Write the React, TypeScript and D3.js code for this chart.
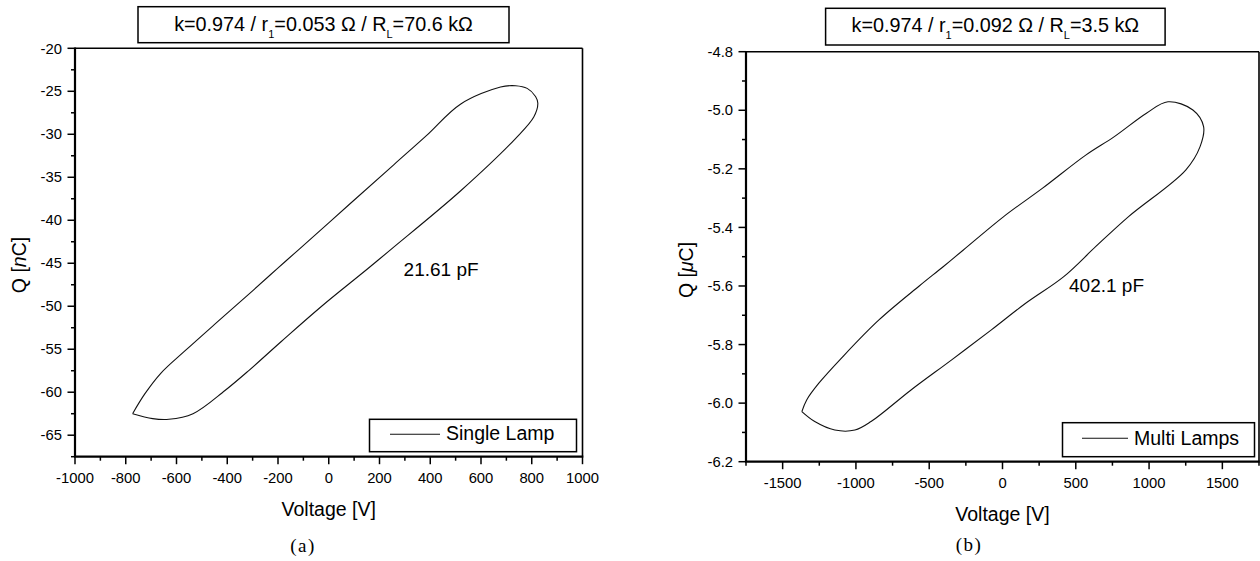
import { useEffect, useRef } from "react";
import * as d3 from "d3";

// (a) single lamp loop (V, nC)
const voltageA = [-773, -725, -662, -567, -440, -298, -204, -116, 85, 256, 387, 519, 677, 736, 782, 815, 824, 808, 736, 519, 249, 151, -28, -187, -314, -409, -535, -630, -694, -773];
const chargeA = [-62.5, -60.2, -57.8, -55.2, -51.85, -48.15, -45.65, -43.35, -38.05, -33.55, -30.1, -26.5, -24.5, -24.35, -24.66, -25.6, -26.4, -28.0, -30.5, -36.6, -43.3, -45.7, -50.0, -54.1, -57.45, -59.8, -62.5, -63.15, -63.07, -62.5];

// (b) multi lamps loop (V, uC)
const voltageB = [-1369, -1336, -1253, -1089, -843, -568, -407, -267, 8, 276, 568, 763, 982, 1129, 1299, 1372, 1348, 1250, 860, 637, 418, 158, -76, -349, -624, -897, -1007, -1144, -1281, -1369];
const chargeB = [-6.029, -5.989, -5.932, -5.841, -5.716, -5.6, -5.535, -5.477, -5.363, -5.265, -5.153, -5.09, -5.01, -4.971, -4.999, -5.056, -5.124, -5.204, -5.363, -5.465, -5.568, -5.659, -5.75, -5.853, -5.955, -6.063, -6.092, -6.092, -6.063, -6.029];

const xTicksA = [-1000, -800, -600, -400, -200, 0, 200, 400, 600, 800, 1000];
const yTicksA = [-65, -60, -55, -50, -45, -40, -35, -30, -25, -20];
const xTicksB = [-1500, -1000, -500, 0, 500, 1000, 1500];
const yTicksB = [-6.2, -6.0, -5.8, -5.6, -5.4, -5.2, -5.0, -4.8];

const FONT = "'Liberation Sans', Arial, sans-serif";

const App = () => {
  const ref = useRef(null);

  useEffect(() => {
    const svg = d3.select(ref.current);
    svg.selectAll("*").remove();

    const panels = [
      {
        xs: voltageA, ys: chargeA,
        box: { l: 75, r: 582.5, t: 48.3, b: 456.7 },
        xDom: [-1000, 1000], yDom: [-67.5, -20],
        xTicks: xTicksA, yTicks: yTicksA, xMinor: 100, yMinor: 2.5,
        yFmt: (v) => `${v}`,
        title: { x: 138, y: 6.7, w: 371, h: 36, base: 30.7, r1: "0.053", rl: "70.6" },
        unit: "n", qx: 26, qy: 265,
        xLabBase: 483, vBase: 515.7,
        note: { text: "21.61 pF", x: 403.6, y: 276 },
        legend: { x: 369.5, y: 419.3, w: 207, h: 32.4, lx1: 390, lx2: 440, ly: 434.3, tx: 446, ty: 440, text: "Single Lamp" },
        cap: { text: "(a)", x: 303, y: 552 },
      },
      {
        xs: voltageB, ys: chargeB,
        box: { l: 746, r: 1259, t: 51.7, b: 461.7 },
        xDom: [-1750, 1750], yDom: [-6.2, -4.8],
        xTicks: xTicksB, yTicks: yTicksB, xMinor: 250, yMinor: 0.1,
        yFmt: (v) => v.toFixed(1),
        title: { x: 825.6, y: 8.3, w: 339.5, h: 36.7, base: 32, r1: "0.092", rl: "3.5" },
        unit: "μ", qx: 693, qy: 270,
        xLabBase: 488.3, vBase: 520.7,
        note: { text: "402.1 pF", x: 1069, y: 291.7 },
        legend: { x: 1062.5, y: 422.7, w: 192, h: 34, lx1: 1082, lx2: 1128, ly: 438.3, tx: 1134, ty: 445, text: "Multi Lamps" },
        cap: { text: "(b)", x: 969, y: 551 },
      },
    ];

    panels.forEach((p) => {
      const g = svg.append("g");
      const x = d3.scaleLinear().domain(p.xDom).range([p.box.l, p.box.r]);
      const y = d3.scaleLinear().domain(p.yDom).range([p.box.b, p.box.t]);

      // minor ticks
      const xMin = d3.range(p.xDom[0], p.xDom[1] + 1e-6, p.xMinor).filter((v) => !p.xTicks.some((t) => Math.abs(t - v) < 1e-6));
      const yMin = d3.range(p.yDom[0], p.yDom[1] + 1e-6, p.yMinor).filter((v) => !p.yTicks.some((t) => Math.abs(t - v) < 1e-6));
      g.selectAll(".xminor").data(xMin).enter().append("line")
        .attr("x1", (d) => x(d)).attr("x2", (d) => x(d))
        .attr("y1", p.box.b).attr("y2", p.box.b + 4)
        .attr("stroke", "#000").attr("stroke-width", 1.5);
      g.selectAll(".yminor").data(yMin).enter().append("line")
        .attr("y1", (d) => y(d)).attr("y2", (d) => y(d))
        .attr("x1", p.box.l).attr("x2", p.box.l - 4)
        .attr("stroke", "#000").attr("stroke-width", 1.5);

      // major ticks + labels
      g.selectAll(".xmajor").data(p.xTicks).enter().append("line")
        .attr("x1", (d) => x(d)).attr("x2", (d) => x(d))
        .attr("y1", p.box.b).attr("y2", p.box.b + 7.5)
        .attr("stroke", "#000").attr("stroke-width", 1.5);
      g.selectAll(".xlab").data(p.xTicks).enter().append("text")
        .attr("x", (d) => x(d)).attr("y", p.xLabBase)
        .attr("text-anchor", "middle")
        .style("font-family", FONT).style("font-size", "14.8px")
        .text((d) => `${d}`);
      g.selectAll(".ymajor").data(p.yTicks).enter().append("line")
        .attr("y1", (d) => y(d)).attr("y2", (d) => y(d))
        .attr("x1", p.box.l).attr("x2", p.box.l - 7.5)
        .attr("stroke", "#000").attr("stroke-width", 1.5);
      g.selectAll(".ylab").data(p.yTicks).enter().append("text")
        .attr("x", p.box.l - 13).attr("y", (d) => y(d) + 5.2)
        .attr("text-anchor", "end")
        .style("font-family", FONT).style("font-size", "14.8px")
        .text(p.yFmt);

      // frame
      g.append("line").attr("x1", p.box.l).attr("x2", p.box.r).attr("y1", p.box.t).attr("y2", p.box.t)
        .attr("stroke", "#000").attr("stroke-width", 1.6);
      g.append("line").attr("x1", p.box.r).attr("x2", p.box.r).attr("y1", p.box.t).attr("y2", p.box.b)
        .attr("stroke", "#000").attr("stroke-width", 1.6);
      g.append("line").attr("x1", p.box.l - 1).attr("x2", p.box.r + 0.8).attr("y1", p.box.b).attr("y2", p.box.b)
        .attr("stroke", "#000").attr("stroke-width", 2.2);
      g.append("line").attr("x1", p.box.l).attr("x2", p.box.l).attr("y1", p.box.t - 0.8).attr("y2", p.box.b)
        .attr("stroke", "#000").attr("stroke-width", 2.2);

      // loop
      const pts = p.xs.map((v, i) => [v, p.ys[i]]);
      const line = d3.line().x((d) => x(d[0])).y((d) => y(d[1])).curve(d3.curveCatmullRom.alpha(0.5));
      g.append("path").attr("d", line(pts)).attr("fill", "none")
        .attr("stroke", "#111").attr("stroke-width", 1.1);

      // annotation
      g.append("text").attr("x", p.note.x).attr("y", p.note.y)
        .style("font-family", FONT).style("font-size", "19px").text(p.note.text);

      // legend
      const L = p.legend;
      g.append("rect").attr("x", L.x).attr("y", L.y).attr("width", L.w).attr("height", L.h)
        .attr("fill", "#fff").attr("stroke", "#000").attr("stroke-width", 1.5);
      g.append("line").attr("x1", L.lx1).attr("x2", L.lx2).attr("y1", L.ly).attr("y2", L.ly)
        .attr("stroke", "#111").attr("stroke-width", 1.1);
      g.append("text").attr("x", L.tx).attr("y", L.ty)
        .style("font-family", FONT).style("font-size", "19.5px").text(L.text);

      // title box
      const T = p.title;
      g.append("rect").attr("x", T.x).attr("y", T.y).attr("width", T.w).attr("height", T.h)
        .attr("fill", "#fff").attr("stroke", "#000").attr("stroke-width", 1.5);
      const tt = g.append("text").attr("x", T.x + T.w / 2).attr("y", T.base)
        .attr("text-anchor", "middle")
        .style("font-family", FONT).style("font-size", "19.8px");
      tt.append("tspan").text("k=0.974 / r");
      tt.append("tspan").attr("dy", 7).style("font-size", "11px").text("1");
      tt.append("tspan").attr("dy", -7).text(`=${T.r1} Ω / R`);
      tt.append("tspan").attr("dy", 7).style("font-size", "11px").text("L");
      tt.append("tspan").attr("dy", -7).text(`=${T.rl} kΩ`);

      // axis titles
      g.append("text").attr("x", (p.box.l + p.box.r) / 2).attr("y", p.vBase)
        .attr("text-anchor", "middle")
        .style("font-family", FONT).style("font-size", "19.5px").text("Voltage [V]");
      const q = g.append("text")
        .attr("transform", `translate(${p.qx},${p.qy}) rotate(-90)`)
        .attr("text-anchor", "middle")
        .style("font-family", FONT).style("font-size", "19.5px");
      q.append("tspan").text("Q [");
      q.append("tspan").style("font-style", "italic").text(p.unit);
      q.append("tspan").text("C]");

      // caption
      g.append("text").attr("x", p.cap.x).attr("y", p.cap.y)
        .attr("text-anchor", "middle")
        .style("font-family", "'Liberation Serif', 'DejaVu Serif', serif")
        .style("font-size", "19px").style("letter-spacing", "1.5px")
        .text(p.cap.text);
    });
  }, []);

  return (
    <div style={{ position: "absolute", left: 0, top: 0, width: 1260, height: 561, background: "#fff" }}>
      <svg ref={ref} width={1260} height={561} />
    </div>
  );
};

export default App;
